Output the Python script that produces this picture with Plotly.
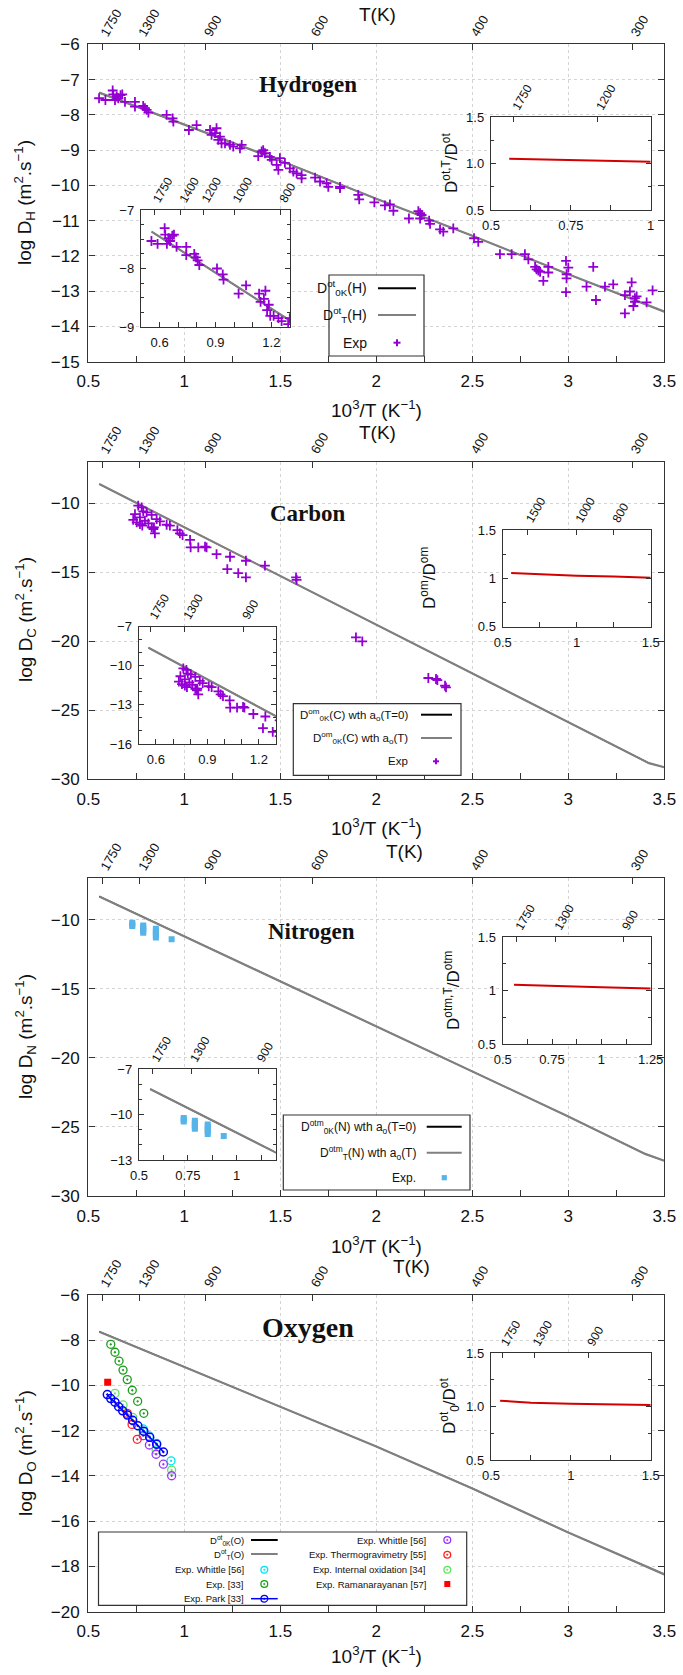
import plotly.graph_objects as go

W, H = 683, 1675

# ============================ DATA ============================
T_main = [1750, 1300, 900, 600, 400, 300]

# ---- Hydrogen ----
h_calc_x = [0.557, 1.0, 1.5, 2.0, 2.5, 3.0, 3.5]
h_calc_y = [-7.37, -8.28, -9.30, -10.38, -11.43, -12.52, -13.58]
h_exp_x = [0.556, 0.589, 0.627, 0.630, 0.639, 0.648, 0.656, 0.668, 0.677, 0.691,
           0.743, 0.743, 0.786, 0.795, 0.804, 0.813, 0.908, 0.939, 0.943, 1.024,
           1.064, 1.134, 1.142, 1.160, 1.168, 1.177, 1.186, 1.194, 1.212, 1.238,
           1.255, 1.290, 1.299, 1.385, 1.403, 1.411, 1.420, 1.446, 1.455, 1.481,
           1.490, 1.498, 1.524, 1.550, 1.568, 1.585, 1.611, 1.611, 1.681, 1.707,
           1.741, 1.750, 1.811, 1.811, 1.906, 1.911, 1.990, 2.045, 2.071, 2.089,
           2.170, 2.219, 2.228, 2.228, 2.236, 2.275, 2.280, 2.332, 2.349, 2.401,
           2.509, 2.531, 2.644, 2.705, 2.774, 2.792, 2.827, 2.835, 2.844, 2.853,
           2.870, 2.896, 2.896, 2.988, 2.991, 2.991, 2.988, 3.000, 3.095, 3.130,
           3.144, 3.191, 3.234, 3.295, 3.295, 3.321, 3.330, 3.339, 3.347, 3.347,
           3.356, 3.408, 3.439]
h_exp_y = [-7.53, -7.58, -7.31, -7.42, -7.58, -7.48, -7.53, -7.44, -7.42, -7.63,
           -7.63, -7.77, -7.75, -7.81, -7.86, -7.94, -8.00, -8.10, -8.19, -8.43,
           -8.29, -8.43, -8.57, -8.52, -8.38, -8.71, -8.62, -8.81, -8.81, -8.85,
           -8.90, -8.95, -8.85, -9.17, -9.04, -9.00, -9.09, -9.19, -9.28, -9.42,
           -9.56, -9.23, -9.36, -9.52, -9.61, -9.66, -9.71, -9.80, -9.78, -9.89,
           -9.94, -10.04, -10.04, -10.08, -10.27, -10.40, -10.48, -10.57, -10.54, -10.72,
           -10.94, -10.73, -10.79, -10.94, -10.84, -11.00, -11.09, -11.25, -11.31, -11.22,
           -11.50, -11.60, -11.95, -11.95, -11.95, -12.10, -12.31, -12.38, -12.42, -12.45,
           -12.71, -12.31, -12.47, -12.14, -12.52, -12.64, -13.03, -12.33, -12.87, -12.31,
           -13.25, -12.87, -12.81, -13.63, -13.11, -13.01, -12.75, -13.42, -13.30, -13.20,
           -13.15, -13.32, -12.98]
h_ratio_x = [0.557, 0.65, 0.75, 0.85, 1.0]
h_ratio_y = [1.053, 1.047, 1.040, 1.032, 1.020]
h_inset_T = [1750, 1400, 1200, 1000, 800]
h_ratio_T = [1750, 1200]

# ---- Carbon ----
c_calc_x = [0.557, 1.0, 1.5, 2.0, 2.5, 3.0, 3.42, 3.5]
c_calc_y = [-8.62, -11.75, -15.29, -18.82, -22.30, -25.88, -28.85, -29.15]
c_exp_x = [0.734, 0.743, 0.752, 0.760, 0.769, 0.769, 0.778, 0.781, 0.786, 0.795,
           0.804, 0.813, 0.830, 0.830, 0.839, 0.842, 0.847, 0.856, 0.873, 0.908,
           0.925, 0.964, 0.977, 0.991, 1.030, 1.033, 1.073, 1.108, 1.116, 1.168,
           1.224, 1.238, 1.281, 1.321, 1.321, 1.420, 1.582, 1.585, 1.894, 1.927,
           2.271, 2.311, 2.318, 2.358, 2.363]
c_exp_y = [-11.21, -10.80, -11.40, -10.19, -11.04, -11.52, -10.31, -11.64, -10.60, -11.28,
           -10.68, -11.47, -10.85, -11.76, -11.88, -11.76, -12.20, -11.16, -11.33, -11.57,
           -11.64, -11.96, -12.20, -12.32, -12.66, -13.21, -13.21, -13.16, -13.21, -13.70,
           -14.78, -13.89, -15.07, -14.18, -15.39, -14.54, -15.39, -15.56, -19.73, -20.02,
           -22.68, -22.75, -22.83, -23.24, -23.36]
c_ratio_x = [0.557, 0.75, 1.0, 1.25, 1.5]
c_ratio_y = [1.055, 1.042, 1.028, 1.018, 1.007]
c_inset_T = [1750, 1300, 900]
c_ratio_T = [1500, 1000, 800]

# ---- Nitrogen ----
n_calc_x = [0.557, 1.0, 1.5, 2.0, 2.5, 3.0, 3.4, 3.5]
n_calc_y = [-8.31, -11.20, -14.46, -17.72, -20.98, -24.24, -26.95, -27.45]
n_exp_x = [0.729, 0.729, 0.729,
           0.786, 0.786, 0.786, 0.786, 0.786,
           0.852, 0.852, 0.852, 0.852, 0.852,
           0.934]
n_exp_y = [-10.22, -10.34, -10.46,
           -10.41, -10.55, -10.68, -10.81, -10.94,
           -10.65, -10.80, -10.96, -11.12, -11.28,
           -11.42]
n_ratio_x = [0.557, 0.75, 1.0, 1.25]
n_ratio_y = [1.056, 1.043, 1.031, 1.019]
n_inset_T = [1750, 1300, 900]
n_ratio_T = [1750, 1300, 900]

# ---- Oxygen ----
o_calc_x = [0.557, 1.0, 1.5, 2.0, 2.5, 3.0, 3.5]
o_calc_y = [-7.62, -9.17, -10.93, -12.70, -14.55, -16.50, -18.35]
o_whittle_c_x = [0.786, 0.818, 0.856, 0.931]
o_whittle_c_y = [-11.92, -12.23, -12.56, -13.33]
o_exp33_x = [0.617, 0.639, 0.660, 0.681, 0.703, 0.729, 0.757, 0.789]
o_exp33_y = [-8.18, -8.53, -8.92, -9.32, -9.74, -10.21, -10.70, -11.23]
o_park_x = [0.599, 0.617, 0.639, 0.658, 0.679, 0.704, 0.731, 0.758, 0.789, 0.820, 0.856, 0.891]
o_park_y = [-10.40, -10.58, -10.74, -10.94, -11.12, -11.31, -11.54, -11.78, -12.02, -12.29, -12.60, -12.94]
o_whittle_p_x = [0.786, 0.818, 0.853, 0.891, 0.934]
o_whittle_p_y = [-12.22, -12.63, -13.04, -13.48, -13.99]
o_thermo_x = [0.703, 0.728, 0.755]
o_thermo_y = [-11.23, -11.72, -12.38]
o_intox_x = [0.639, 0.681, 0.731, 0.786, 0.853, 0.934]
o_intox_y = [-10.35, -10.86, -11.41, -12.04, -12.85, -13.74]
o_raman_x = [0.601]
o_raman_y = [-9.86]
o_ratio_x = [0.557, 0.75, 1.0, 1.25, 1.5]
o_ratio_y = [1.056, 1.037, 1.028, 1.022, 1.016]
o_ratio_T = [1750, 1300, 900]

# ============================ STYLE ============================
FONT = "Liberation Sans, Arial, sans-serif"
SERIF = "Liberation Serif, Times New Roman, serif"
AX = '#333333'
GRID = '#d4d4d4'
TXT = '#111111'
PURPLE = '#9400d3'
GRAY = '#808080'
RED = '#d40000'
NBLUE = '#56b4e9'

ML, MR = 88.3, 664.3   # main plot left / right pixel

layout_axes = {}
traces = []
shapes = []
annotations = []
counter = {'x': 0, 'y': 0}


def new_ref(letter):
    counter[letter] += 1
    n = counter[letter]
    return letter if n == 1 else f'{letter}{n}'


def akey(ref):
    return ref[0] + 'axis' + ref[1:]


def PX(x):
    return x / W


def PY(y):
    return 1 - y / H


BASE = dict(showline=True, linecolor=AX, linewidth=1.4, ticks='inside', automargin=False,
            tickcolor=AX, zeroline=False, fixedrange=True, showgrid=False)


def make_axes(l, t, r, b, xkw, ykw):
    xr = new_ref('x')
    yr = new_ref('y')
    layout_axes[akey(xr)] = {**BASE, **xkw, 'domain': [PX(l), PX(r)], 'anchor': yr}
    layout_axes[akey(yr)] = {**BASE, **ykw, 'domain': [PY(b), PY(t)], 'anchor': xr}
    return xr, yr


def make_top(xr, yr, rng, temps, size, ticklen):
    tr = new_ref('x')
    layout_axes[akey(tr)] = dict(
        overlaying=xr, anchor=yr, side='top', range=rng, tickmode='array',
        tickvals=[1000.0 / T for T in temps], ticktext=[str(T) for T in temps],
        tickangle=-60, ticks='inside', ticklen=ticklen, tickcolor=AX, automargin=False,
        showline=False, showgrid=False, zeroline=False, fixedrange=True,
        tickfont=dict(family=FONT, size=size, color=TXT))
    traces.append(go.Scatter(x=[None], y=[None], xaxis=tr, yaxis=yr,
                             showlegend=False, hoverinfo='skip'))
    return tr


def main_panel(top, bot, yrange, ytickvals):
    xkw = dict(range=[0.5, 3.5], tickmode='linear', tick0=0.5, dtick=0.5, ticklen=6,
               mirror=True, showgrid=True, gridcolor=GRID, griddash='dot', gridwidth=1,
               tickfont=dict(family=FONT, size=17, color=TXT), ticklabelstandoff=4,
               minor=dict(dtick=0.25, tick0=0.5, ticks='inside', ticklen=6, tickcolor=AX,
                          showgrid=False))
    ykw = dict(range=yrange, tickmode='array', tickvals=ytickvals, ticklen=6,
               mirror='ticks', showgrid=True, gridcolor=GRID, griddash='dot', gridwidth=1,
               tickfont=dict(family=FONT, size=17, color=TXT), ticklabelstandoff=4)
    xr, yr = make_axes(ML, top, MR, bot, xkw, ykw)
    make_top(xr, yr, [0.5, 3.5], T_main, 13, 6)
    return xr, yr


def inset(l, t, r, b, xrange, xtickvals, xticktext, xminor, yrange, ytickvals, yticktext,
          yminor, temps, size=13, tsize=12):
    xkw = dict(range=xrange, tickmode='array', tickvals=xtickvals, ticktext=xticktext,
               ticklen=5, mirror=True, tickfont=dict(family=FONT, size=size, color=TXT),
               ticklabelstandoff=3,
               minor=dict(tickmode='array', tickvals=xminor, ticks='inside', ticklen=5, tickcolor=AX))
    ykw = dict(range=yrange, tickmode='array', tickvals=ytickvals, ticktext=yticktext,
               ticklen=5, mirror='ticks', tickfont=dict(family=FONT, size=size, color=TXT),
               ticklabelstandoff=3,
               minor=dict(tickmode='array', tickvals=yminor, ticks='inside', ticklen=3, tickcolor=AX))
    xr, yr = make_axes(l, t, r, b, xkw, ykw)
    make_top(xr, yr, xrange, temps, tsize, 5)
    return xr, yr


def white_under(mx, my, yrange, mtop, mbot, l, t, r, b):
    # opaque background under an inset, between gridlines and traces of the main plot
    def dx(p):
        return 0.5 + (p - ML) / (MR - ML) * 3.0

    def dy(p):
        return yrange[1] - (p - mtop) / (mbot - mtop) * (yrange[1] - yrange[0])
    shapes.append(dict(type='rect', xref=mx, yref=my,
                       x0=dx(l), x1=dx(r), y0=dy(b), y1=dy(t),
                       fillcolor='white', line=dict(width=0), layer='between'))


def ann(text, x, y, size, family=FONT, angle=0, xanchor='center', bold=False):
    if bold:
        text = f'<b>{text}</b>'
    annotations.append(dict(text=text, x=PX(x), y=PY(y), xref='paper', yref='paper',
                            xanchor=xanchor, yanchor='middle', showarrow=False,
                            textangle=angle, font=dict(family=family, size=size, color=TXT)))


def scatter(xs, ys, xr, yr, **kw):
    traces.append(go.Scatter(x=xs, y=ys, xaxis=xr, yaxis=yr, showlegend=False,
                             hoverinfo='skip', **kw))


def calc_lines(xs, ys, xr, yr):
    scatter(xs, ys, xr, yr, mode='lines', line=dict(color='black', width=1.2))
    scatter(xs, ys, xr, yr, mode='lines', line=dict(color=GRAY, width=2.2))


def plus_marks(xs, ys, xr, yr):
    scatter(xs, ys, xr, yr, mode='markers',
            marker=dict(symbol='cross-thin', size=7, line=dict(color=PURPLE, width=1.8)))


def ratio_line(xs, ys, xr, yr):
    scatter(xs, ys, xr, yr, mode='lines', line=dict(color=RED, width=2))


# ----- legend helpers (paper-pixel geometry) -----
def leg_box(l, t, r, b):
    shapes.append(dict(type='rect', xref='paper', yref='paper', x0=PX(l), x1=PX(r),
                       y0=PY(b), y1=PY(t), line=dict(color=AX, width=1.2),
                       fillcolor='white', layer='above'))


def leg_line(x0, x1, y, color, width):
    shapes.append(dict(type='line', xref='paper', yref='paper', x0=PX(x0), x1=PX(x1),
                       y0=PY(y), y1=PY(y), line=dict(color=color, width=width), layer='above'))


def leg_plus(x, y, color, s=3.5):
    leg_line(x - s, x + s, y, color, 2)
    shapes.append(dict(type='line', xref='paper', yref='paper', x0=PX(x), x1=PX(x),
                       y0=PY(y - s), y1=PY(y + s), line=dict(color=color, width=2), layer='above'))


def leg_square(x, y, color, s=3):
    shapes.append(dict(type='rect', xref='paper', yref='paper', x0=PX(x - s), x1=PX(x + s),
                       y0=PY(y + s), y1=PY(y - s), line=dict(width=0), fillcolor=color,
                       layer='above'))


def leg_circle(x, y, color, r=3.4):
    shapes.append(dict(type='circle', xref='paper', yref='paper', x0=PX(x - r), x1=PX(x + r),
                       y0=PY(y + r), y1=PY(y - r), line=dict(color=color, width=1.3),
                       fillcolor='rgba(0,0,0,0)', layer='above'))
    shapes.append(dict(type='circle', xref='paper', yref='paper', x0=PX(x - 0.8), x1=PX(x + 0.8),
                       y0=PY(y + 0.8), y1=PY(y - 0.8), line=dict(color=color, width=0.5),
                       fillcolor=color, layer='above'))


# ============================ PANEL 1: HYDROGEN ============================
P1T, P1B = 44.3, 361.7
R1 = [-15, -6]
mx, my = main_panel(P1T, P1B, R1, list(range(-15, -5)))
white_under(mx, my, R1, P1T, P1B, 141, 210, 290, 327)
white_under(mx, my, R1, P1T, P1B, 491, 117.3, 650.7, 210)
calc_lines(h_calc_x, h_calc_y, mx, my)
plus_marks(h_exp_x, h_exp_y, mx, my)

ix, iy = inset(141, 210, 290, 327, [0.5, 1.3], [0.6, 0.9, 1.2], ['0.6', '0.9', '1.2'],
               [0.5, 0.7, 0.8, 1.0, 1.1], [-9, -7], [-9, -8, -7], ['−9', '−8', '−7'],
               [-8.75, -8.5, -8.25, -7.75, -7.5, -7.25], h_inset_T)
calc_lines(h_calc_x, h_calc_y, ix, iy)
plus_marks(h_exp_x, h_exp_y, ix, iy)

rx, ry = inset(491, 117.3, 650.7, 210, [0.5, 1.0], [0.5, 0.75, 1.0], ['0.5', '0.75', '1'],
               [0.625, 0.875], [0.5, 1.5], [0.5, 1.0, 1.5], ['0.5', '1.0', '1.5'],
               [0.75, 1.25], h_ratio_T, size=13, tsize=12)
ratio_line(h_ratio_x, h_ratio_y, rx, ry)

ann('Hydrogen', 308, 85, 23, family=SERIF, bold=True)
ann('T(K)', 377, 15, 19)
ann('10<sup>3</sup>/T (K<sup>−1</sup>)', 376, 409, 19)
ann('log D<sub>H</sub> (m<sup>2</sup>.s<sup>−1</sup>)', 25, 203, 19, angle=-90)
ann('D<sup>ot,T</sup>/D<sup>ot</sup>', 450, 163, 17, angle=-90)

leg_box(329, 275, 424, 356)
ann('D<sup>ot</sup><sub>0K</sub>(H)', 369, 288.3, 14, xanchor='right')
ann('D<sup>ot</sup><sub>T</sub>(H)', 369, 315, 14, xanchor='right')
ann('Exp', 369, 342.7, 14, xanchor='right')
leg_line(378, 416, 288.3, 'black', 2)
leg_line(378, 416, 315, GRAY, 2)
leg_plus(397, 342.7, PURPLE)

# ============================ PANEL 2: CARBON ============================
P2T, P2B = 461.7, 779
R2 = [-30, -7]
mx, my = main_panel(P2T, P2B, R2, [-30, -25, -20, -15, -10])
white_under(mx, my, R2, P2T, P2B, 138.7, 626.7, 276, 744)
white_under(mx, my, R2, P2T, P2B, 502.7, 530, 650.7, 626.7)
calc_lines(c_calc_x, c_calc_y, mx, my)
plus_marks(c_exp_x, c_exp_y, mx, my)

ix, iy = inset(138.7, 626.7, 276, 744, [0.5, 1.3], [0.6, 0.9, 1.2], ['0.6', '0.9', '1.2'],
               [0.5, 0.7, 0.8, 1.0, 1.1], [-16, -7], [-16, -13, -10, -7],
               ['−16', '−13', '−10', '−7'], [-15, -14, -12, -11, -9, -8], c_inset_T)
calc_lines(c_calc_x, c_calc_y, ix, iy)
plus_marks(c_exp_x, c_exp_y, ix, iy)

rx, ry = inset(502.7, 530, 650.7, 626.7, [0.5, 1.5], [0.5, 1.0, 1.5], ['0.5', '1', '1.5'],
               [0.75, 1.25], [0.5, 1.5], [0.5, 1.0, 1.5], ['0.5', '1', '1.5'],
               [0.75, 1.25], c_ratio_T, size=13, tsize=12)
ratio_line(c_ratio_x, c_ratio_y, rx, ry)

ann('Carbon', 308, 513, 23, family=SERIF, bold=True)
ann('T(K)', 377, 433, 19)
ann('10<sup>3</sup>/T (K<sup>−1</sup>)', 376, 827, 19)
ann('log D<sub>C</sub> (m<sup>2</sup>.s<sup>−1</sup>)', 25, 620, 19, angle=-90)
ann('D<sup>om</sup>/D<sup>om</sup>', 428, 578, 17, angle=-90)

leg_box(293.3, 703.7, 461, 775.3)
ann('D<sup>om</sup><sub>0K</sub>(C) wth a<sub>o</sub>(T=0)', 410, 714.7, 11.5, xanchor='right')
ann('D<sup>om</sup><sub>0K</sub>(C) wth a<sub>o</sub>(T)', 410, 738, 11.5, xanchor='right')
ann('Exp', 410, 761.3, 11.5, xanchor='right')
leg_line(421, 452, 714.7, 'black', 2)
leg_line(421, 452, 738, GRAY, 2)
leg_plus(436, 761.3, PURPLE, s=3)

# ============================ PANEL 3: NITROGEN ============================
P3T, P3B = 878.3, 1196
R3 = [-30, -7]
mx, my = main_panel(P3T, P3B, R3, [-30, -25, -20, -15, -10])
white_under(mx, my, R3, P3T, P3B, 139, 1069.3, 275.7, 1160)
white_under(mx, my, R3, P3T, P3B, 502.7, 937.3, 650.7, 1044)
calc_lines(n_calc_x, n_calc_y, mx, my)
scatter(n_exp_x, n_exp_y, mx, my, mode='markers',
        marker=dict(symbol='square', size=6, color=NBLUE, line=dict(width=0)))

ix, iy = inset(139, 1069.3, 275.7, 1160, [0.5, 1.2], [0.5, 0.75, 1.0], ['0.5', '0.75', '1'],
               [0.625, 0.875, 1.125], [-13, -7], [-13, -10, -7], ['−13', '−10', '−7'],
               [-12, -11, -9, -8], n_inset_T)
calc_lines(n_calc_x, n_calc_y, ix, iy)
scatter(n_exp_x, n_exp_y, ix, iy, mode='markers',
        marker=dict(symbol='square', size=6, color=NBLUE, line=dict(width=0)))

rx, ry = inset(502.7, 937.3, 650.7, 1044, [0.5, 1.25], [0.5, 0.75, 1.0, 1.25],
               ['0.5', '0.75', '1', '1.25'], [0.625, 0.875, 1.125], [0.5, 1.5],
               [0.5, 1.0, 1.5], ['0.5', '1', '1.5'], [0.75, 1.25], n_ratio_T, size=13, tsize=12)
ratio_line(n_ratio_x, n_ratio_y, rx, ry)

ann('Nitrogen', 311, 931.7, 23, family=SERIF, bold=True)
ann('T(K)', 404, 851, 19)
ann('10<sup>3</sup>/T (K<sup>−1</sup>)', 376, 1245, 19)
ann('log D<sub>N</sub> (m<sup>2</sup>.s<sup>−1</sup>)', 25, 1037, 19, angle=-90)
ann('D<sup>otm,T</sup>/D<sup>otm</sup>', 452, 990, 17, angle=-90)

leg_box(283.3, 1115, 470, 1190)
ann('D<sup>otm</sup><sub>0K</sub>(N) wth a<sub>o</sub>(T=0)', 418.3, 1126.7, 12, xanchor='right')
ann('D<sup>otm</sup><sub>T</sub>(N) wth a<sub>o</sub>(T)', 418.3, 1152.7, 12, xanchor='right')
ann('Exp.', 418.3, 1177.7, 12, xanchor='right')
leg_line(426.7, 461.7, 1126.7, 'black', 2)
leg_line(426.7, 461.7, 1152.7, GRAY, 2)
leg_square(444.3, 1177.7, NBLUE, s=2.6)

# ============================ PANEL 4: OXYGEN ============================
P4T, P4B = 1295, 1611.7
R4 = [-20, -6]
mx, my = main_panel(P4T, P4B, R4, list(range(-20, -5, 2)))
white_under(mx, my, R4, P4T, P4B, 491, 1353.3, 650.7, 1460)
calc_lines(o_calc_x, o_calc_y, mx, my)


def circ(xs, ys, color, name_line=False):
    if name_line:
        scatter(xs, ys, mx, my, mode='lines+markers', line=dict(color=color, width=1.5),
                marker=dict(symbol='circle-open-dot', size=8, color=color, line=dict(width=1.5)))
    else:
        scatter(xs, ys, mx, my, mode='markers',
                marker=dict(symbol='circle-open-dot', size=8, color=color, line=dict(width=1.3)))


CYAN, DGREEN, BLUE, VIOLET, RED2, LGREEN = '#00e5ee', '#1a9e1a', '#0000ff', '#9933ff', '#ff2020', '#5ee65e'
circ(o_exp33_x, o_exp33_y, DGREEN)
circ(o_intox_x, o_intox_y, LGREEN)
circ(o_whittle_c_x, o_whittle_c_y, CYAN)
circ(o_whittle_p_x, o_whittle_p_y, VIOLET)
circ(o_thermo_x, o_thermo_y, RED2)
circ(o_park_x, o_park_y, BLUE, name_line=True)
scatter(o_raman_x, o_raman_y, mx, my, mode='markers',
        marker=dict(symbol='square', size=7, color='#ff0000', line=dict(width=0)))

rx, ry = inset(491, 1353.3, 650.7, 1460, [0.5, 1.5], [0.5, 1.0, 1.5], ['0.5', '1', '1.5'],
               [0.75, 1.25], [0.5, 1.5], [0.5, 1.0, 1.5], ['0.5', '1.0', '1.5'],
               [0.75, 1.25], o_ratio_T, size=13, tsize=12)
ratio_line(o_ratio_x, o_ratio_y, rx, ry)

ann('Oxygen', 308, 1327, 28, family=SERIF, bold=True)
ann('T(K)', 411, 1266, 19)
ann('10<sup>3</sup>/T (K<sup>−1</sup>)', 376, 1655, 19)
ann('log D<sub>O</sub> (m<sup>2</sup>.s<sup>−1</sup>)', 25, 1453, 19, angle=-90)
ann('D<sup>ot</sup><sub>0</sub>/D<sup>ot</sup>', 449, 1406, 17, angle=-90)

leg_box(98.5, 1532, 466.7, 1605.3)
LF = 9.5
ann('D<sup>ot</sup><sub>0K</sub>(O)', 245.7, 1540, LF, xanchor='right')
ann('D<sup>ot</sup><sub>T</sub>(O)', 245.7, 1554, LF, xanchor='right')
ann('Exp. Whittle [56]', 245.7, 1569.7, LF, xanchor='right')
ann('Exp. [33]', 245.7, 1584, LF, xanchor='right')
ann('Exp. Park [33]', 245.7, 1598.7, LF, xanchor='right')
leg_line(251, 277.7, 1540, 'black', 2)
leg_line(251, 277.7, 1554, GRAY, 2)
leg_circle(264.3, 1569.7, CYAN)
leg_circle(264.3, 1584, DGREEN)
leg_line(251, 277.7, 1598.7, BLUE, 1.5)
leg_circle(264.3, 1598.7, BLUE)
ann('Exp. Whittle [56]', 428.3, 1540, LF, xanchor='right')
ann('Exp. Thermogravimetry [55]', 428.3, 1554.7, LF, xanchor='right')
ann('Exp. Internal oxidation [34]', 428.3, 1569.7, LF, xanchor='right')
ann('Exp. Ramanarayanan [57]', 428.3, 1584, LF, xanchor='right')
leg_circle(447.3, 1540, VIOLET)
leg_circle(447.3, 1554.7, RED2)
leg_circle(447.3, 1569.7, LGREEN)
leg_square(447.3, 1584, '#ff0000', s=3)

# ============================ FIGURE ============================
fig = go.Figure(data=traces)
fig.update_layout(
    width=W, height=H, margin=dict(l=0, r=0, t=0, b=0, pad=0, autoexpand=False),
    paper_bgcolor='white', plot_bgcolor='white', showlegend=False,
    shapes=shapes, annotations=annotations, font=dict(family=FONT, color=TXT),
    **layout_axes)
fig.write_html("out.html", config={'displayModeBar': False},
               post_script="document.body.style.margin='0px';")
